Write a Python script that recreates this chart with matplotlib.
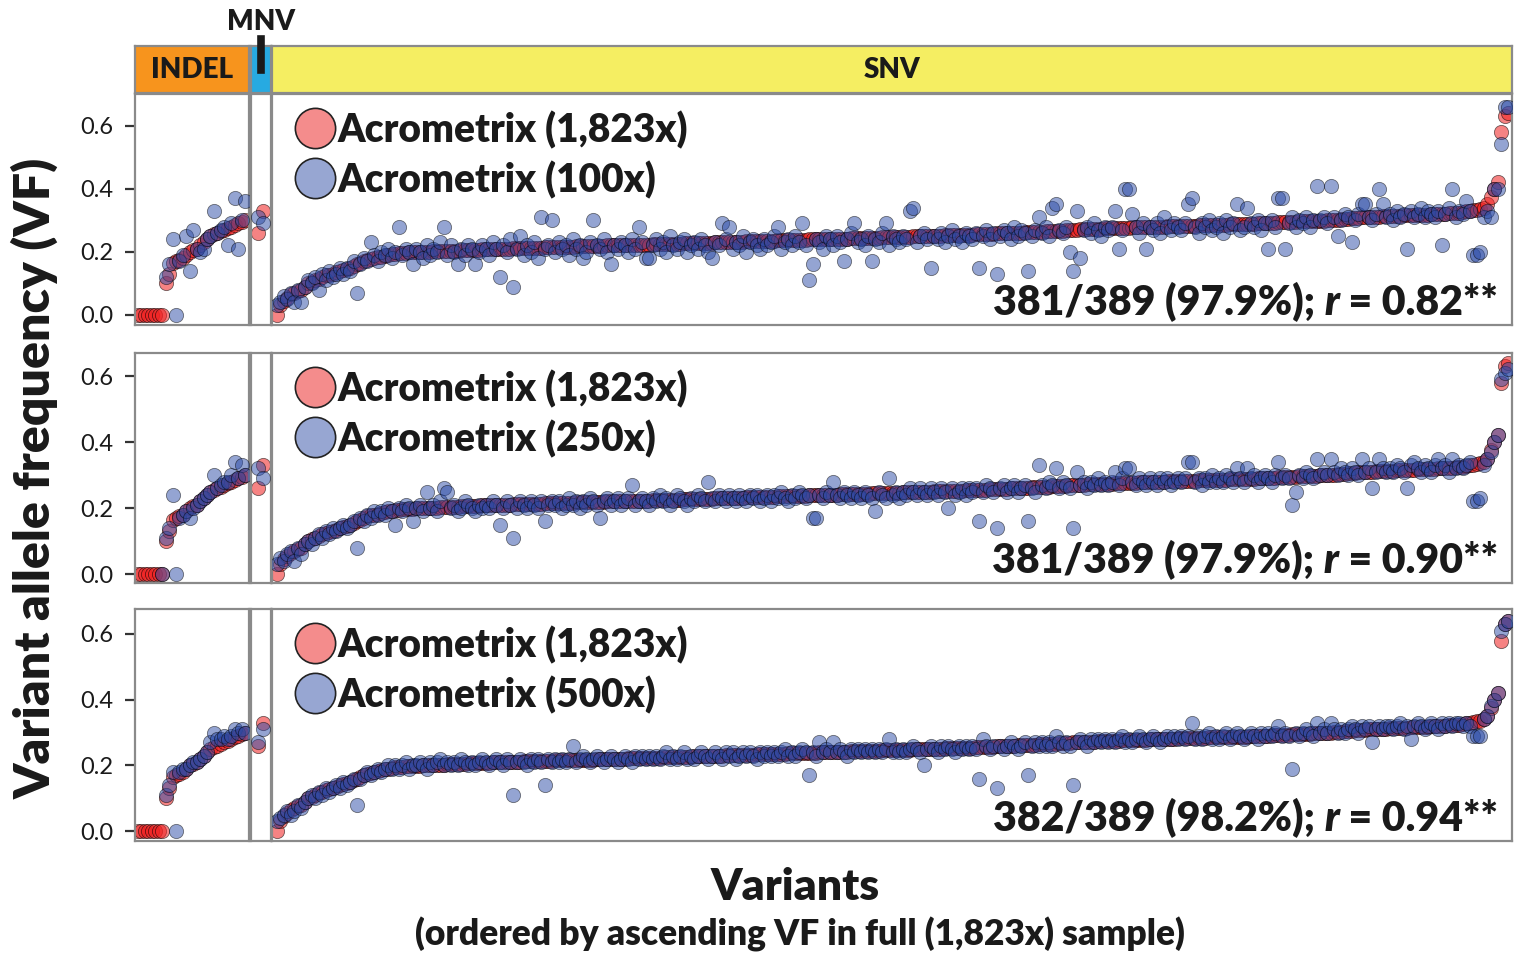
import numpy as np
import matplotlib.pyplot as plt
from matplotlib.lines import Line2D
from matplotlib.offsetbox import TextArea, HPacker, AnchoredOffsetbox

plt.rcParams['font.family'] = ['Lato', 'DejaVu Sans']

# ---- data (VF in percent) ----
indel_full = [0, 0, 0, 0, 0, 0, 0, 0,
              10, 13, 16.5, 17, 17.5, 18, 19, 20,
              20.5, 21, 22, 23, 24, 25, 25.5, 26,
              26.5, 27, 27.5, 28, 28.5, 29, 29.5, 30]
indel_100 = [None] * 8 + [12, 16, 24, 0, 17, 19, 25, 14,
                          27, 21, 20, 21, 24, 25, 33, 26,
                          27, 28, 22, 29, 37, 21, 30, 36]
indel_250 = [None] * 7 + [0] + [11, 14, 24, 0, 17, 18, 19, 17,
                                20, 21, 22, 23, 24, 25, 30, 26,
                                27, 28, 28, 30, 34, 29, 33, 30]
indel_500 = [None] * 8 + [11, 14, 18, 0, 18, 19, 19, 20,
                          21, 21, 22, 23, 24, 27, 30, 28,
                          28, 29, 28, 29, 31, 30, 31, 30]

mnv_full = [26, 33]
mnv_100 = [31, 29]
mnv_250 = [32, 29]
mnv_500 = [27, 31]

snv_full = [
    0, 3, 4.5, 5.5, 6.5, 7, 7.5, 8, 9, 10,
    10.5, 11, 11.5, 12, 12.5, 12.8, 13, 13.5, 14, 14.2,
    14.5, 15, 15.5, 16, 16.5, 17, 17.5, 17.8, 18, 18.3,
    18.5, 18.8, 19, 19.2, 19.4, 19.5, 19.6,
    19.7, 19.8, 19.8, 19.9, 19.9, 20.0, 20.0, 20.0, 20.1, 20.1, 20.2, 20.2,
    20.3, 20.3, 20.4, 20.4, 20.5, 20.5, 20.6, 20.6, 20.7, 20.7, 20.8, 20.8,
    20.8, 20.9, 20.9, 20.9, 21.0, 21.0, 21.0, 21.1, 21.1, 21.1, 21.2,
    21.2, 21.2, 21.3, 21.3, 21.3, 21.4, 21.4, 21.4, 21.5, 21.5, 21.5,
    21.6, 21.6, 21.6, 21.7, 21.7, 21.7, 21.8, 21.8, 21.8, 21.9, 21.9,
    21.9, 22.0, 22.0, 22.0, 22.1, 22.1, 22.1, 22.2, 22.2, 22.2, 22.2,
    22.3, 22.3, 22.3, 22.4, 22.4, 22.4, 22.5, 22.5, 22.5, 22.6, 22.6, 22.6,
    22.7, 22.7, 22.7, 22.8, 22.8, 22.8, 22.9, 22.9, 22.9, 23.0, 23.0, 23.0,
    23.1, 23.1, 23.1, 23.2, 23.2, 23.2, 23.3, 23.3, 23.3, 23.4, 23.4, 23.4,
    23.5, 23.5, 23.5, 23.6, 23.6, 23.6, 23.7, 23.7, 23.7, 23.8, 23.8, 23.8,
    23.9, 23.9, 23.9, 24.0, 24.0, 24.0, 24.1, 24.1, 24.1, 24.2, 24.2, 24.2,
    24.3, 24.3, 24.3, 24.4, 24.4, 24.4, 24.5, 24.5, 24.5, 24.6, 24.6, 24.6,
    24.7, 24.7, 24.7, 24.8, 24.8, 24.8, 24.9, 24.9, 24.9, 25.0, 25.0, 25.0,
    25.1, 25.1, 25.1, 25.2, 25.2, 25.2, 25.3, 25.3, 25.3, 25.4, 25.4, 25.4,
    25.5, 25.5, 25.6, 25.6, 25.7, 25.7, 25.8, 25.8, 25.9, 25.9, 26.0, 26.0,
    26.1, 26.1, 26.2, 26.2, 26.3, 26.3, 26.4, 26.4, 26.5, 26.5, 26.6, 26.6,
    26.7, 26.7, 26.8, 26.9, 27.0,
    27.0, 27.1, 27.1, 27.2, 27.2, 27.2, 27.3, 27.3, 27.4, 27.4, 27.4, 27.5,
    27.5, 27.6, 27.6, 27.6, 27.7, 27.7, 27.8, 27.8, 27.8, 27.9, 27.9, 28.0, 28.0,
    28.0, 28.1, 28.1, 28.1, 28.2, 28.2, 28.2, 28.3, 28.3, 28.3, 28.4, 28.4,
    28.4, 28.5, 28.5, 28.5, 28.6, 28.6, 28.6, 28.7, 28.7, 28.7, 28.8, 28.8,
    28.8, 28.9, 28.9, 29.0, 29.0,
    29.1, 29.1, 29.2, 29.2, 29.3, 29.3, 29.4, 29.4, 29.5, 29.5, 29.6, 29.6,
    29.7, 29.7, 29.8, 29.8, 29.9, 29.9, 30.0, 30.0, 30.1, 30.2, 30.3, 30.4,
    30.5, 30.6, 30.7, 30.8,
    30.9, 30.9, 31.0, 31.0, 31.1, 31.1, 31.2, 31.2, 31.3, 31.3, 31.4, 31.4,
    31.5, 31.5, 31.6, 31.6, 31.7, 31.7, 31.8, 31.8, 31.9, 31.9, 32.0, 32.0,
    32.1, 32.2, 32.3, 32.4, 32.4,
    32.6, 32.8, 33.0, 33.2, 33.4, 33.6, 34.0, 35.0, 37.5, 40.0, 42.0, 58.0, 63.0, 64.0]

snv_100 = [
    3, 4, 6, 5, 7, 4, 8, 4, 9, 11, 10, 12, 8, 13, 11, 14, 12, 13, 15, 13,
    15, 14, 17, 7, 16, 18, 17, 23, 19, 17, 20, 19, 21, 18, 20, 28, 19, 21, 20, 16,
    21, 20, 18, 22, 19, 21, 20, 23, 28, 19, 22, 20, 16, 21, 19, 22, 21, 16, 20, 22,
    21, 19, 23, 21, 12, 22, 20, 24, 9, 21, 25, 19, 22, 20, 23, 18, 31, 21, 22, 30,
    20, 23, 21, 22, 19, 24, 21, 22, 18, 20, 23, 30, 22, 21, 24, 20, 16, 22, 21, 23,
    22, 20, 24, 21, 28, 23, 18, 18, 22, 24, 21, 23, 20, 25, 22, 21, 23, 24, 20, 22,
    23, 21, 24, 22, 20, 18, 23, 22, 29, 24, 28, 21, 23, 22, 25, 20, 23, 24, 22, 21,
    24, 22, 23, 25, 28, 21, 23, 24, 22, 25, 23, 29, 22, 11, 16, 24, 23, 21, 25, 24,
    22, 25, 23, 17, 24, 26, 29, 23, 24, 22, 25, 17, 24, 23, 26, 29, 22, 25, 24, 23,
    25, 24, 33, 34, 23, 25, 26, 24, 15, 25, 24, 26, 23, 25, 27, 24, 25, 23, 26, 25,
    24, 26, 15, 25, 27, 24, 26, 13, 25, 27, 26, 24, 28, 25, 27, 26, 14, 25, 27, 31,
    26, 28, 25, 34, 35, 27, 26, 28, 20, 14, 33, 18, 27, 28, 26, 29, 27, 25, 28, 27,
    28, 33, 21, 27, 40, 40, 32, 28, 26, 29, 21, 28, 27, 29, 26, 31, 28, 27, 29, 28,
    27, 29, 35, 37, 28, 26, 29, 28, 30, 27, 28, 29, 26, 30, 28, 29, 35, 27, 28, 34,
    29, 28, 30, 27, 29, 21, 30, 28, 37, 37, 21, 29, 31, 28, 30, 29, 31, 28, 30, 41,
    30, 31, 29, 41, 31, 25, 30, 32, 31, 23, 30, 32, 35, 35, 31, 30, 32, 40, 35, 31,
    32, 30, 33, 31, 32, 21, 33, 31, 32, 34, 31, 33, 32, 31, 33, 22, 32, 34, 40, 31,
    33, 32, 36, 33, 19, 19, 20, 31, 33, 31, 40, 40, 54, 66, 66]

snv_250 = [
    3, 5, 4, 6, 7, 4, 8, 6, 9, 10, 9, 11, 12, 11, 13, 12, 14, 13, 14, 15,
    14, 15, 16, 8, 17, 16, 18, 17, 19, 18, 19, 18, 20, 19, 15, 20, 19, 21, 20, 16,
    20, 21, 19, 25, 20, 21, 19, 22, 26, 25, 20, 21, 19, 20, 22, 21, 20, 19, 21, 20,
    21, 20, 22, 21, 15, 20, 22, 21, 11, 20, 22, 21, 20, 22, 21, 20, 22, 16, 21, 22,
    21, 22, 20, 21, 23, 21, 22, 20, 22, 21, 23, 22, 21, 17, 22, 23, 21, 22, 23, 21,
    22, 23, 27, 21, 22, 23, 22, 21, 23, 22, 24, 22, 23, 21, 22, 24, 23, 22, 21, 23,
    22, 24, 23, 22, 28, 23, 22, 24, 23, 22, 24, 23, 22, 24, 23, 22, 24, 23, 24, 22,
    23, 24, 22, 24, 23, 25, 23, 22, 24, 23, 25, 24, 23, 24, 17, 17, 24, 23, 25, 24,
    28, 24, 23, 25, 24, 23, 25, 24, 23, 25, 24, 23, 19, 25, 24, 23, 29, 24, 25, 23,
    25, 24, 26, 25, 24, 26, 25, 24, 26, 25, 24, 26, 25, 20, 26, 24, 25, 26, 24, 26,
    25, 26, 16, 25, 27, 26, 25, 14, 26, 27, 25, 26, 27, 25, 26, 27, 16, 26, 25, 33,
    27, 26, 28, 27, 32, 26, 28, 27, 26, 14, 31, 27, 28, 26, 28, 27, 29, 27, 28, 27,
    28, 31, 27, 29, 32, 32, 28, 27, 29, 28, 27, 29, 28, 27, 29, 28, 29, 27, 28, 29,
    28, 29, 34, 34, 28, 29, 27, 29, 28, 30, 28, 29, 28, 30, 29, 28, 32, 29, 28, 32,
    29, 30, 28, 29, 30, 29, 28, 30, 34, 29, 30, 29, 21, 25, 30, 29, 31, 30, 29, 35,
    30, 31, 30, 35, 31, 30, 32, 31, 30, 32, 31, 30, 35, 31, 32, 26, 31, 35, 32, 31,
    32, 31, 33, 32, 31, 26, 33, 34, 32, 31, 33, 32, 31, 33, 35, 32, 33, 31, 35, 32,
    33, 32, 33, 34, 22, 22, 23, 33, 35, 37, 40, 42, 59, 61, 62]

snv_500 = [
    3, 4, 5, 6, 5, 6, 8, 7, 9, 10, 11, 10, 12, 11, 13, 12, 13, 14, 13, 15,
    14, 15, 16, 8, 16, 17, 18, 17, 18, 19, 18, 19, 20, 19, 20, 19, 20, 21, 19, 20,
    20, 21, 20, 19, 21, 20, 21, 22, 20, 21, 20, 21, 20, 22, 21, 20, 21, 20, 21, 22,
    21, 20, 21, 22, 21, 20, 22, 21, 11, 21, 22, 21, 20, 22, 21, 22, 21, 14, 22, 21,
    22, 21, 22, 21, 22, 26, 21, 22, 23, 22, 21, 22, 23, 22, 21, 22, 23, 22, 21, 22,
    23, 22, 21, 23, 22, 23, 22, 23, 22, 23, 22, 23, 24, 22, 23, 22, 23, 24, 22, 23,
    22, 23, 24, 23, 22, 23, 24, 23, 22, 24, 23, 24, 22, 23, 24, 23, 24, 23, 22, 24,
    23, 24, 23, 24, 23, 24, 25, 23, 24, 23, 24, 25, 24, 17, 24, 23, 27, 24, 25, 24,
    27, 24, 25, 24, 23, 25, 24, 25, 24, 25, 24, 25, 24, 25, 24, 25, 28, 24, 25, 24,
    25, 24, 25, 26, 25, 24, 20, 25, 26, 25, 24, 26, 25, 26, 25, 24, 26, 25, 26, 25,
    26, 25, 16, 28, 26, 25, 26, 13, 26, 25, 26, 27, 26, 25, 26, 27, 17, 26, 27, 26,
    27, 26, 27, 26, 29, 27, 26, 27, 26, 14, 27, 28, 27, 26, 28, 27, 28, 27, 28, 27,
    28, 27, 28, 29, 27, 28, 27, 28, 29, 28, 27, 28, 29, 28, 27, 28, 29, 28, 29, 28,
    29, 28, 29, 33, 28, 29, 28, 29, 30, 28, 29, 28, 29, 30, 28, 29, 30, 29, 28, 29,
    30, 29, 28, 30, 29, 30, 29, 30, 32, 29, 30, 29, 19, 30, 29, 30, 31, 30, 29, 33,
    30, 31, 30, 33, 31, 30, 31, 30, 31, 32, 31, 30, 32, 31, 32, 27, 31, 32, 31, 32,
    32, 31, 32, 33, 31, 32, 28, 32, 33, 32, 31, 32, 33, 32, 31, 33, 32, 33, 32, 33,
    33, 32, 33, 32, 29, 29, 29, 34, 35, 38, 40, 42, 61, 63, 64]

depth_labels = ['Acrometrix (100x)', 'Acrometrix (250x)', 'Acrometrix (500x)']
concord = ['381/389 (97.9%); ', '381/389 (97.9%); ', '382/389 (98.2%); ']
r_vals = ['0.82**', '0.90**', '0.94**']
types = ['INDEL', 'MNV', 'SNV']
strip_colors = ['#F7941D', '#27AAE1', '#F5EE62']


def pct(v):
    return np.array([np.nan if a is None else a / 100 for a in v])


full = [indel_full, mnv_full, snv_full]
low = [[indel_100, mnv_100, snv_100],
       [indel_250, mnv_250, snv_250],
       [indel_500, mnv_500, snv_500]]

# ---- layout in pixels ----
W, H = 1526, 957
fig = plt.figure(figsize=(W / 100, H / 100), dpi=100)


def box(l, t, r, b):
    return [l / W, 1 - b / H, (r - l) / W, (b - t) / H]


cols = [(135, 249, (-0.87, 32.16)), (251, 271, (-1.4, 2.6)), (272, 1512, (-1.44, 355.15))]
rows = [(94, 325, (-0.032, 0.70)), (353, 583, (-0.027, 0.67)), (609, 841, (-0.030, 0.676))]
red = '#F01E1E'
blue = '#2A4AA6'
gray = '#8a8a8a'
ink = '#1a1a1a'
heavy = 'heavy'

for k, (top, bot, ylim) in enumerate(rows):
    for c, (l, r, xlim) in enumerate(cols):
        ax = fig.add_axes(box(l, top, r, bot))
        yf = pct(full[c])
        yl = pct(low[k][c])
        ax.scatter(np.arange(len(yf)), yf, s=105, color=red, alpha=0.55,
                   edgecolors='black', linewidths=0.6, zorder=2)
        ax.scatter(np.arange(len(yl)), yl, s=105, color=blue, alpha=0.5,
                   edgecolors='black', linewidths=0.6, zorder=3)
        ax.set_xlim(*xlim)
        ax.set_ylim(*ylim)
        ax.set_xticks([])
        for sp in ax.spines.values():
            sp.set_color(gray)
            sp.set_linewidth(1.6)
        if c == 0:
            ax.set_yticks([0, 0.2, 0.4, 0.6])
            ax.set_yticklabels(['0.0', '0.2', '0.4', '0.6'])
            ax.tick_params(axis='y', length=7.5, width=1.6, color='#333333',
                           labelsize=17, labelcolor=ink, pad=8)
        else:
            ax.set_yticks([])
        if c == 2:
            handles = [Line2D([], [], ls='none', marker='o', ms=29,
                              mfc='#F48C8C', mec='#222222', mew=1.2),
                       Line2D([], [], ls='none', marker='o', ms=29,
                              mfc='#97A6D2', mec='#222222', mew=1.2)]
            ax.legend(handles, ['Acrometrix (1,823x)', depth_labels[k]],
                      loc='upper left', bbox_to_anchor=(0.003, 1.012),
                      frameon=False, borderpad=0, handlelength=1.0,
                      handletextpad=0.1, labelspacing=0.3,
                      prop={'size': 28, 'weight': heavy}, labelcolor=ink)
            tp = {'size': 29.5, 'weight': heavy, 'color': ink}
            pack = HPacker(children=[TextArea(concord[k], textprops=tp),
                                     TextArea('r', textprops=dict(tp, style='italic')),
                                     TextArea(' = ' + r_vals[k], textprops=tp)],
                           align='baseline', pad=0, sep=0)
            ab = AnchoredOffsetbox(loc='lower right', child=pack, pad=0, borderpad=0,
                                   frameon=False, bbox_to_anchor=(1 - 14 / 1240, 3 / 231),
                                   bbox_transform=ax.transAxes)
            ax.add_artist(ab)

# strips
for c, (l, r, xlim) in enumerate(cols):
    sx = fig.add_axes(box(l, 46, r, 93))
    sx.set_facecolor(strip_colors[c])
    sx.set_xticks([])
    sx.set_yticks([])
    for sp in sx.spines.values():
        sp.set_color(gray)
        sp.set_linewidth(1.6)
    if c != 1:
        sx.text(0.5, 0.48, types[c], ha='center', va='center', fontsize=20,
                fontweight=heavy, color=ink, transform=sx.transAxes)

fig.text(261 / W, 1 - 22 / H, types[1], ha='center', va='center', fontsize=20,
         fontweight=heavy, color=ink)
fig.add_artist(Line2D([261 / W, 261 / W], [1 - 39 / H, 1 - 70 / H],
                      color=ink, lw=5.5, transform=fig.transFigure))

fig.text(35 / W, 1 - 478 / H, 'Variant allele frequency (VF)', rotation=90,
         ha='center', va='center', fontsize=36, fontweight=heavy, color=ink)
fig.text(795 / W, 1 - 887 / H, 'Variants', ha='center', va='center',
         fontsize=32, fontweight=heavy, color=ink)
fig.text(800 / W, 1 - 934 / H, '(ordered by ascending VF in full (1,823x) sample)',
         ha='center', va='center', fontsize=25.5, fontweight=heavy, color=ink)

fig.savefig('out.png', dpi=100)
